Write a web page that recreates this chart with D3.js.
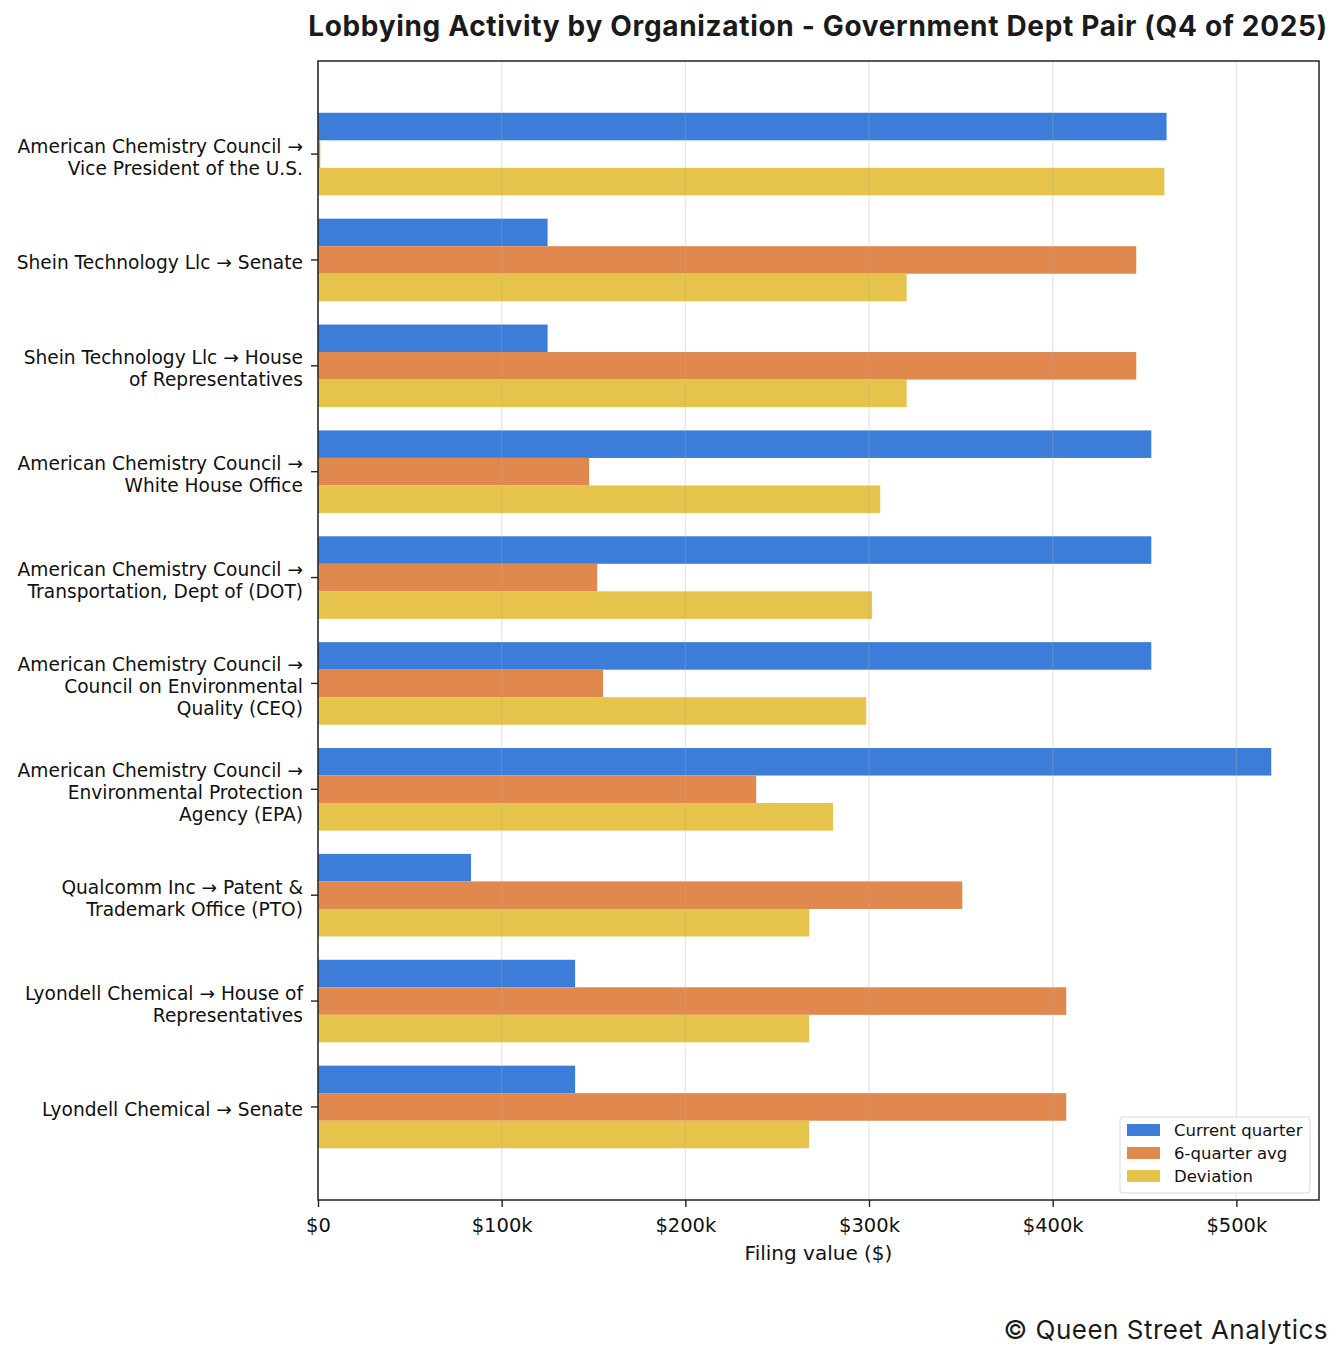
<!DOCTYPE html>
<html>
<head>
<meta charset="utf-8">
<script src="https://cdn.jsdelivr.net/npm/d3@7"></script>
<style>
  body { margin: 0; background: #fff; }
  svg { display: block; }
</style>
</head>
<body>
<div id="chart"></div>
<script>
// data
const pairs = [
    "American Chemistry Council →\nVice President of the U.S.",
    "Shein Technology Llc → Senate",
    "Shein Technology Llc → House\nof Representatives",
    "American Chemistry Council →\nWhite House Office",
    "American Chemistry Council →\nTransportation, Dept of (DOT)",
    "American Chemistry Council →\nCouncil on Environmental\nQuality (CEQ)",
    "American Chemistry Council →\nEnvironmental Protection\nAgency (EPA)",
    "Qualcomm Inc → Patent &\nTrademark Office (PTO)",
    "Lyondell Chemical → House of\nRepresentatives",
    "Lyondell Chemical → Senate"
];
const currentQuarter = [462000, 125000, 125000, 453700, 453700, 453700, 519000, 83300, 140000, 140000];
const sixQuarterAvg = [1200, 445500, 445500, 147600, 152000, 155200, 238600, 350800, 407400, 407400];
const deviation = [460800, 320500, 320500, 306100, 301700, 298500, 280400, 267500, 267400, 267400];
const seriesNames = ["Current quarter", "6-quarter avg", "Deviation"];
const seriesColors = ["#3b7dd8", "#e0884e", "#e6c34a"];
const xTicks = [0, 100000, 200000, 300000, 400000, 500000];

const width = 1343, height = 1359;
const margin = { top: 61, right: 24, bottom: 159, left: 318 };
const barH = 0.26;

const series = [currentQuarter, sixQuarterAvg, deviation];

const svg = d3.select("#chart")
    .append("svg")
    .attr("width", width)
    .attr("height", height);

const x = d3.scaleLinear()
    .domain([0, 545000])
    .range([margin.left, width - margin.right]);

const y = d3.scaleLinear()
    .domain([-0.879, pairs.length - 1 + 0.879])
    .range([margin.top, height - margin.bottom]);

// bars
series.forEach((vals, s) => {
    svg.append("g")
        .selectAll("rect")
        .data(vals)
        .enter()
        .append("rect")
        .attr("x", x(0))
        .attr("y", (d, i) => y(i + (s - 1) * barH - barH / 2))
        .attr("width", d => x(d) - x(0))
        .attr("height", y(barH) - y(0))
        .attr("fill", seriesColors[s]);
});

// grid lines (on top, faint)
svg.append("g")
    .selectAll("line")
    .data(xTicks)
    .enter()
    .append("line")
    .attr("x1", d => x(d)).attr("x2", d => x(d))
    .attr("y1", margin.top).attr("y2", height - margin.bottom)
    .attr("stroke", "#b0b0b0")
    .attr("stroke-opacity", 0.3)
    .attr("stroke-width", 1.3);

// x axis
const xAxis = svg.append("g")
    .attr("transform", `translate(0,${height - margin.bottom})`)
    .call(d3.axisBottom(x).tickValues(xTicks).tickSize(7).tickPadding(11)
        .tickFormat(d => d === 0 ? "$0" : `$${d / 1000}k`));
xAxis.select(".domain").remove();
xAxis.selectAll("line").attr("stroke", "#222").attr("stroke-width", 1.4);
xAxis.selectAll("text")
    .attr("font-family", "DejaVu Sans")
    .attr("font-size", "19.5px")
    .attr("fill", "#111");

// y axis ticks and wrapped labels
const yAxis = svg.append("g");
pairs.forEach((label, i) => {
    const yc = y(i);
    yAxis.append("line")
        .attr("x1", margin.left - 7).attr("x2", margin.left)
        .attr("y1", yc).attr("y2", yc)
        .attr("stroke", "#222").attr("stroke-width", 1.4);
    const lines = label.split("\n");
    const t = yAxis.append("text")
        .attr("text-anchor", "end")
        .attr("font-family", "DejaVu Sans")
        .attr("font-size", "18.6px")
        .attr("fill", "#111");
    lines.forEach((ln, k) => {
        t.append("tspan")
            .attr("x", margin.left - 15)
            .attr("y", yc + 3 + (k - (lines.length - 1) / 2) * 22)
            .attr("dy", "0.35em")
            .text(ln);
    });
});

// frame
svg.append("rect")
    .attr("x", margin.left)
    .attr("y", margin.top)
    .attr("width", width - margin.right - margin.left)
    .attr("height", height - margin.bottom - margin.top)
    .attr("fill", "none")
    .attr("stroke", "#222")
    .attr("stroke-width", 1.5);

// axis title
svg.append("text")
    .attr("x", (margin.left + width - margin.right) / 2)
    .attr("y", 1260)
    .attr("text-anchor", "middle")
    .attr("font-family", "DejaVu Sans")
    .attr("font-size", "20px")
    .attr("fill", "#111")
    .text("Filing value ($)");

// legend
const lg = svg.append("g").attr("transform", "translate(1120,1117)");
lg.append("rect")
    .attr("width", 190).attr("height", 76)
    .attr("rx", 3)
    .attr("fill", "#fff").attr("fill-opacity", 0.8)
    .attr("stroke", "#d8d8d8");
seriesNames.forEach((name, i) => {
    lg.append("rect")
        .attr("x", 7).attr("y", 7 + i * 23)
        .attr("width", 33).attr("height", 12)
        .attr("fill", seriesColors[i]);
    lg.append("text")
        .attr("x", 54).attr("y", 13 + i * 23)
        .attr("dy", "0.35em")
        .attr("font-family", "DejaVu Sans")
        .attr("font-size", "16.5px")
        .attr("fill", "#111")
        .text(name);
});

// stretch a text to a measured width via letter spacing
function fitWidth(sel, target) {
    const node = sel.node();
    const w = node.getComputedTextLength();
    const n = sel.text().length;
    sel.attr("letter-spacing", ((target - w) / (n - 1)).toFixed(3) + "px");
}

// title
const title = svg.append("text")
    .attr("x", 818)
    .attr("y", 36)
    .attr("text-anchor", "middle")
    .attr("font-family", "Inter")
    .attr("font-weight", "bold")
    .attr("font-size", "28px")
    .attr("fill", "#1a1a1a")
    .text("Lobbying Activity by Organization - Government Dept Pair (Q4 of 2025)");
fitWidth(title, 1019);

// footer
const footer = svg.append("text")
    .attr("x", 1328)
    .attr("y", 1339)
    .attr("text-anchor", "end")
    .attr("font-family", "Inter")
    .attr("font-size", "26px")
    .attr("fill", "#1a1a1a")
    .text("© Queen Street Analytics");
fitWidth(footer, 324);
</script>
</body>
</html>
